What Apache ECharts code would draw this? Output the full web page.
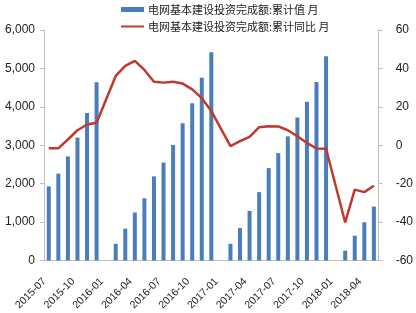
<!DOCTYPE html>
<html>
<head>
<meta charset="utf-8">
<script src="https://cdn.jsdelivr.net/npm/echarts@6/dist/echarts.min.js"></script>
<style>html,body{margin:0;padding:0;background:#fff;}#c{width:416px;height:313px;}</style>
</head>
<body>
<div id="c"></div>
<script>
var categories = [
  '2015-07','2015-08','2015-09','2015-10','2015-11','2015-12',
  '2016-01','2016-02','2016-03','2016-04','2016-05','2016-06','2016-07','2016-08','2016-09','2016-10','2016-11','2016-12',
  '2017-01','2017-02','2017-03','2017-04','2017-05','2017-06','2017-07','2017-08','2017-09','2017-10','2017-11','2017-12',
  '2018-01','2018-02','2018-03','2018-04','2018-05'
];
var cumValue = [
  1930, 2260, 2710, 3200, 3840, 4640,
  null, 435, 830, 1250, 1620, 2190, 2550, 3005, 3570, 4095, 4755, 5420,
  null, 435, 845, 1290, 1780, 2405, 2796, 3232, 3720, 4130, 4645, 5315,
  null, 254, 645, 995, 1403
];
var cumYoY = [
  -1.6, -1.6, 3.0, 7.8, 10.8, 11.7,
  null, 36.1, 41.3, 43.9, 39.2, 33.1, 32.6, 33.1, 32.1, 29.1, 24.5, 17.8,
  null, -0.5, 2.1, 4.4, 9.4, 9.9, 9.8, 7.8, 4.7, 1.2, -1.7, -1.8,
  null, -40.2, -23.1, -24.4, -21.1
];
var seriesNames = ['电网基本建设投资完成额:累计值 月', '电网基本建设投资完成额:累计同比 月'];

var chart = echarts.init(document.getElementById('c'), null, {renderer: 'canvas'});
var axisGray = '#bfbfbf';
var numFont = 'Liberation Sans, Arial, sans-serif';
chart.setOption({
  animation: false,
  backgroundColor: '#fff',
  legend: {
    orient: 'vertical',
    left: 120,
    top: 4,
    padding: 0,
    itemWidth: 23,
    itemHeight: 5,
    itemGap: 6,
    textStyle: {fontSize: 11, color: '#222', fontFamily: 'Noto Sans CJK SC, sans-serif', padding: [0, 0, 0, -1]},
    data: [
      {name: seriesNames[0], icon: 'rect'},
      {name: seriesNames[1], itemStyle: {opacity: 0}}
    ]
  },
  grid: {left: 44, right: 35, top: 30, bottom: 52, containLabel: false},
  xAxis: {
    type: 'category',
    data: categories,
    boundaryGap: true,
    axisLine: {lineStyle: {color: axisGray, width: 1}},
    axisTick: {interval: 2, length: 4, lineStyle: {color: axisGray}},
    axisLabel: {interval: 2, rotate: 45, fontSize: 10.5, color: '#222', fontFamily: numFont, margin: 15, padding: [0, 6, 0, 0]},
    splitLine: {show: false}
  },
  yAxis: [
    {
      type: 'value', min: 0, max: 6000, interval: 1000,
      axisLine: {show: true, lineStyle: {color: axisGray}},
      axisTick: {show: true, length: 4, lineStyle: {color: axisGray}},
      axisLabel: {fontSize: 12, color: '#222', fontFamily: numFont, margin: 9,
        formatter: function (v) { return v.toLocaleString('en-US'); }},
      splitLine: {show: false}
    },
    {
      type: 'value', min: -60, max: 60, interval: 20,
      axisLine: {show: true, lineStyle: {color: axisGray}},
      axisTick: {show: true, length: 4, lineStyle: {color: axisGray}},
      axisLabel: {fontSize: 12, color: '#222', fontFamily: numFont, margin: 17},
      splitLine: {show: false}
    }
  ],
  series: [
    {
      name: seriesNames[0], type: 'bar', yAxisIndex: 0,
      data: cumValue, barWidth: 4,
      itemStyle: {color: '#4a7ebb'}
    },
    {
      name: seriesNames[1], type: 'line', yAxisIndex: 1,
      data: cumYoY, connectNulls: true, symbol: 'none',
      lineStyle: {color: '#c0392f', width: 2.5},
      itemStyle: {color: '#c0392f'}
    }
  ]
});
</script>
</body>
</html>
